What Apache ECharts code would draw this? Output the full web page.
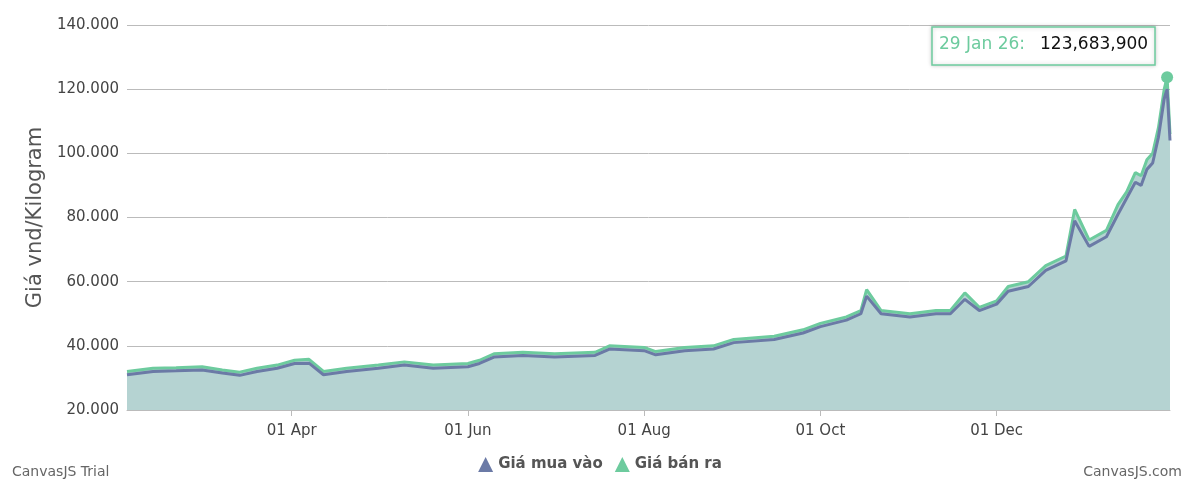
<!DOCTYPE html>
<html>
<head>
<meta charset="utf-8">
<script src="https://cdn.jsdelivr.net/npm/echarts@6/dist/echarts.min.js"></script>
<style>html,body{margin:0;padding:0;background:#fff}#chart{width:1200px;height:495px}</style>
</head>
<body>
<div id="chart"></div>
<script>
// Ngày và giá (nghìn vnd/kg)
const ngay = ['2025-02-03','2025-02-12','2025-02-20','2025-03-01','2025-03-08','2025-03-14','2025-03-20','2025-03-27','2025-04-02','2025-04-07','2025-04-12','2025-04-20','2025-05-01','2025-05-10','2025-05-20','2025-06-01','2025-06-05','2025-06-10','2025-06-20','2025-07-01','2025-07-15','2025-07-20','2025-08-01','2025-08-05','2025-08-15','2025-08-25','2025-09-01','2025-09-15','2025-09-25','2025-10-01','2025-10-10','2025-10-15','2025-10-17','2025-10-22','2025-11-01','2025-11-10','2025-11-15','2025-11-20','2025-11-25','2025-12-01','2025-12-05','2025-12-12','2025-12-18','2025-12-25','2025-12-28','2026-01-02','2026-01-08','2026-01-12','2026-01-15','2026-01-18','2026-01-20','2026-01-22','2026-01-24','2026-01-26','2026-01-27','2026-01-28','2026-01-29','2026-01-30'];
const giaBanRa = [32,33,33.2,33.5,32.5,31.8,33,34,35.5,35.8,32,33,34,35,34,34.5,35.5,37.5,38,37.5,38,40,39.5,38.2,39.5,40,42,43,45,47,49,51,57.5,51,50,51,51,56.5,52,54,58.5,60,65,68,82.5,73,76,84,88,94,93,98,100,108,114,120,123.6839,106];
const giaMuaVao = [31,32,32.2,32.5,31.5,30.8,32,33,34.5,34.6,31,32,33,34,33,33.5,34.5,36.5,37,36.5,37,39,38.5,37.2,38.5,39,41,42,44,46,48,50,55.5,50,49,50,50,54.5,51,53,57,58.5,63.5,66.5,79,71,74,81,86,91,90,95,97,105,111,117,120,104];
const nhanTruc = ['2025-04-01','2025-06-01','2025-08-01','2025-10-01','2025-12-01'];

const chart = echarts.init(document.getElementById('chart'));
const thang = ['Jan','Feb','Mar','Apr','May','Jun','Jul','Aug','Sep','Oct','Nov','Dec'];
const toTs = d => new Date(d + 'T00:00:00').getTime();
const ts = ngay.map(toTs);
const nhanTs = nhanTruc.map(toTs);
const muc = '#b5d3d2';

chart.setOption({
    animation: false,
    textStyle: { fontFamily: 'DejaVu Sans' },
    grid: { left: 127, right: 30, top: 25, bottom: 85 },
    xAxis: {
        type: 'value',
        min: toTs('2025-02-03'),
        max: toTs('2026-01-30'),
        axisLine: { lineStyle: { color: '#bbb' } },
        axisTick: { customValues: nhanTs, length: 6, lineStyle: { color: '#bbb' } },
        axisLabel: {
            customValues: nhanTs, color: '#444', fontSize: 15, margin: 14,
            formatter: v => { const d = new Date(v); return '01 ' + thang[d.getMonth()]; }
        },
        splitLine: { show: false }
    },
    yAxis: {
        type: 'value', min: 20, max: 140, interval: 20,
        name: 'Giá vnd/Kilogram', nameLocation: 'middle', nameGap: 80,
        nameTextStyle: { fontSize: 21, color: '#555' },
        axisLine: { show: false }, axisTick: { show: false },
        axisLabel: { color: '#444', fontSize: 15, formatter: v => v + '.000' },
        splitLine: { lineStyle: { color: '#bbb' } }
    },
    legend: {
        bottom: 18, left: 'center', itemWidth: 15, itemHeight: 15, itemGap: 12,
        textStyle: { color: '#555', fontSize: 15, fontWeight: 'bold' },
        data: [{ name: 'Giá mua vào', icon: 'triangle' }, { name: 'Giá bán ra', icon: 'triangle' }]
    },
    series: [
        {
            name: 'Giá bán ra', type: 'line', symbol: 'none', z: 2,
            data: ts.map((t, i) => [t, giaBanRa[i]]),
            lineStyle: { color: '#6dcb9e', width: 3 }, itemStyle: { color: '#6dcb9e' },
            areaStyle: { color: muc, opacity: 1 },
            markPoint: {
                symbol: 'circle', symbolSize: 12, label: { show: false },
                itemStyle: { color: '#6dcb9e' },
                data: [{ coord: [ts[56], giaBanRa[56]] }]
            }
        },
        {
            name: 'Giá mua vào', type: 'line', symbol: 'none', z: 3,
            data: ts.map((t, i) => [t, giaMuaVao[i]]),
            lineStyle: { color: '#6b7aa6', width: 3 }, itemStyle: { color: '#6b7aa6' },
            areaStyle: { color: muc, opacity: 1 }
        }
    ],
    graphic: [
        { type: 'text', left: 12, bottom: 16, style: { text: 'CanvasJS Trial', fill: '#666', fontSize: 14, fontFamily: 'DejaVu Sans' } },
        { type: 'text', right: 18, bottom: 16, style: { text: 'CanvasJS.com', fill: '#666', fontSize: 14, fontFamily: 'DejaVu Sans' } },
        { type: 'rect', shape: { x: 932, y: 27, width: 223, height: 38 }, style: { fill: '#fff', stroke: '#6dcb9e', lineWidth: 1.5, shadowBlur: 4, shadowColor: 'rgba(0,0,0,0.2)' }, z: 10 },
        { type: 'text', x: 939, y: 36, z: 11, style: { text: '29 Jan 26:', fill: '#6dcb9e', fontSize: 17, fontFamily: 'DejaVu Sans' } },
        { type: 'text', x: 1040, y: 36, z: 11, style: { text: '123,683,900', fill: '#111', fontSize: 17, fontFamily: 'DejaVu Sans' } }
    ]
});
</script>
</body>
</html>
